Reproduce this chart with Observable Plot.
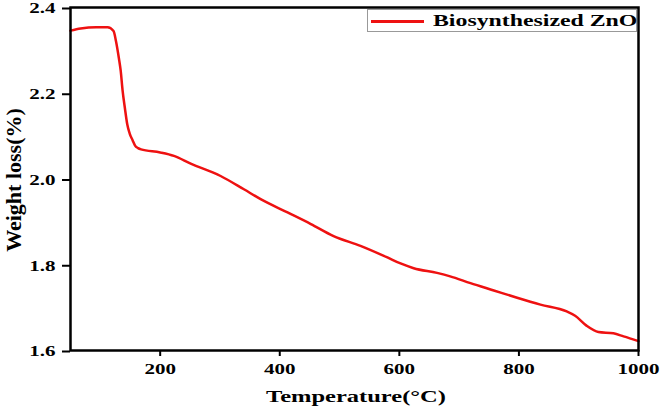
<!DOCTYPE html>
<html>
<head>
<meta charset="utf-8">
<script src="https://cdn.jsdelivr.net/npm/d3@7"></script>
<script src="https://cdn.jsdelivr.net/npm/@observablehq/plot@0.6"></script>
<style>
  body { margin: 0; background: #fff; }
  #wrap { position: relative; width: 661px; height: 407px; overflow: hidden; font-family: "Liberation Serif", "Times New Roman", serif; font-weight: bold; color: #000; }
  #wrap svg { position: absolute; left: 0; top: 0; }
  .xlabel { position: absolute; left: 356px; top: 388px; font-size: 17.5px; line-height: 17.5px; white-space: nowrap; transform: translateX(-50%) scaleX(1.4); }
  .ylabel { position: absolute; left: 14px; top: 180px; font-size: 22px; line-height: 22px; white-space: nowrap; transform: translate(-50%, -50%) rotate(-90deg); }
  .legend { position: absolute; left: 367px; top: 9px; width: 270px; height: 23px; border: 1px solid #999; background: #fff; box-sizing: border-box; }
  .legend .sw { position: absolute; left: 3px; top: 10px; width: 53px; height: 2.5px; background: #ee1111; }
  .legend .tx { position: absolute; left: 65px; top: 2px; font-size: 17px; line-height: 17px; white-space: nowrap; transform-origin: left center; transform: scaleX(1.4); }
</style>
</head>
<body>
<div id="wrap"></div>
<script>
const temperature = [50, 67, 93, 112, 122, 126, 131, 134, 137, 141, 145, 149, 154, 158, 163, 168, 200, 223, 251, 301, 340, 368, 413, 452, 490, 535, 580, 602, 624, 663, 685, 719, 758, 797, 836, 880, 894, 913, 933, 958, 975, 1000];
const weightLoss = [2.346, 2.351, 2.354, 2.354, 2.345, 2.322, 2.281, 2.252, 2.208, 2.165, 2.127, 2.106, 2.09, 2.078, 2.072, 2.069, 2.062, 2.054, 2.036, 2.007, 1.976, 1.953, 1.922, 1.895, 1.867, 1.844, 1.817, 1.803, 1.792, 1.781, 1.773, 1.757, 1.740, 1.723, 1.707, 1.691, 1.681, 1.658, 1.643, 1.640, 1.633, 1.622];
const xTicks = [200, 400, 600, 800, 1000];
const yTicks = [1.6, 1.8, 2.0, 2.2, 2.4];
const seriesName = "Biosynthesized ZnO";
const xTitle = "Temperature(°C)";
const yTitle = "Weight loss(%)";

const data = temperature.map((t, i) => ({t, w: weightLoss[i]}));

const chart = Plot.plot({
  width: 661,
  height: 407,
  marginLeft: 70,
  marginRight: 23,
  marginTop: 7,
  marginBottom: 57,
  style: {fontFamily: "'Liberation Serif', 'Times New Roman', serif", fontWeight: "bold", fontSize: "15px", color: "#000", background: "#fff"},
  x: {domain: [50, 1000]},
  y: {domain: [1.6, 2.4]},
  marks: [
    Plot.line(data, {x: "t", y: "w", stroke: "#ee1111", strokeWidth: 2.5, curve: "monotone-x"}),
    Plot.axisX({ticks: xTicks, tickFormat: d => String(d), tickSize: 6, tickPadding: 7, strokeWidth: 2, label: null, fontSize: 15, fontWeight: "bold"}),
    Plot.axisY({ticks: yTicks, tickFormat: d3.format(".1f"), tickSize: 8, tickPadding: 7, strokeWidth: 2, label: null, fontSize: 15, fontWeight: "bold", dy: 1}),
    Plot.frame({stroke: "#000", strokeWidth: 2.5})
  ]
});

const wrap = document.getElementById("wrap");
wrap.appendChild(chart);

// the reference is horizontally stretched: widen the tick labels
chart.querySelectorAll("text").forEach(t => {
  const len = t.getComputedTextLength();
  t.setAttribute("textLength", (len * 1.4).toFixed(2));
  t.setAttribute("lengthAdjust", "spacingAndGlyphs");
});

const xl = document.createElement("div");
xl.className = "xlabel";
xl.textContent = xTitle;
wrap.appendChild(xl);

const yl = document.createElement("div");
yl.className = "ylabel";
yl.textContent = yTitle;
wrap.appendChild(yl);

const lg = document.createElement("div");
lg.className = "legend";
lg.innerHTML = '<div class="sw"></div><div class="tx"></div>';
lg.querySelector(".tx").textContent = seriesName;
wrap.appendChild(lg);
</script>
</body>
</html>
